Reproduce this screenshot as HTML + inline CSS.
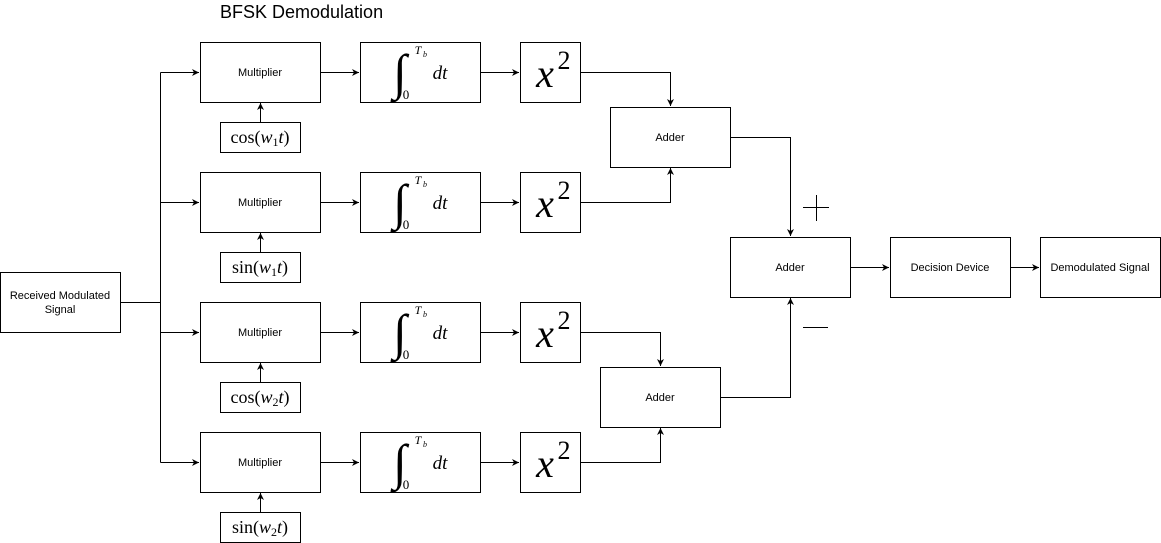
<!DOCTYPE html>
<html><head><meta charset="utf-8"><style>
body{margin:0;background:#fff;width:1161px;height:543px;overflow:hidden}
svg{display:block}
.b{fill:#fff;stroke:#000;stroke-width:1}
.l{fill:none;stroke:#000;stroke-width:1}
.t{font-family:"Liberation Sans",sans-serif;font-size:11px;text-anchor:middle}
.m{font-family:"Liberation Serif",serif;font-style:italic;text-anchor:middle}
.r{font-family:"Liberation Serif",serif;text-anchor:middle}
</style></head><body>
<svg width="1161" height="543" viewBox="0 0 1161 543">
<defs><marker id="a" markerWidth="8" markerHeight="8" refX="7" refY="4" orient="auto" markerUnits="userSpaceOnUse"><path d="M0,0.5 L7,4 L0,7.5 L2,4z" fill="#000"/></marker></defs>
<text x="220" y="18" font-family="Liberation Sans,sans-serif" font-size="18">BFSK Demodulation</text>
<g id="g"></g>
</svg>
<script>
const svg=document.getElementById('g');const NS='http://www.w3.org/2000/svg';
function el(t,a,txt){const e=document.createElementNS(NS,t);for(const k in a)e.setAttribute(k,a[k]);if(txt!==undefined)e.textContent=txt;svg.appendChild(e);return e;}
function line(pts,arrow,name){const e=el('polyline',{points:pts,class:'l','marker-end':arrow?'url(#a)':''});

}
function box(x,y,w,h,name){const e=el('rect',{x:x+.5,y:y+.5,width:w,height:h,class:'b'});

}
const rows=[72,202,332,462];
const osc=[['cos','1'],['sin','1'],['cos','2'],['sin','2']];
box(0,272,120,60,'received-signal-box');
el('text',{x:60,y:299,class:'t'},'Received Modulated');el('text',{x:60,y:313,class:'t'},'Signal');
line('120.5,302.5 160.5,302.5',false,'input-wire');
line('160.5,72.5 160.5,462.5',false,'branch-bus');
rows.forEach((y,i)=>{
 line(`160.5,${y+.5} 199,${y+.5}`,true,'branch-arrow');
 box(200,y-30,120,60,'multiplier-box');el('text',{x:260,y:y+4,class:'t'},'Multiplier');
 line(`320.5,${y+.5} 359,${y+.5}`,true,'mult-to-int-arrow');
 box(360,y-30,120,60,'integrator-box');
 el('text',{x:400,y:y+17,class:'r','font-size':50,transform:`translate(0,0)`},'∫');
 el('text',{x:418,y:y-18,class:'m','font-size':12},'T');el('text',{x:425,y:y-15,class:'m','font-size':8},'b');
 el('text',{x:406,y:y+27,class:'r','font-size':13},'0');
 el('text',{x:440,y:y+7,class:'m','font-size':19},'dt');
 line(`480.5,${y+.5} 519,${y+.5}`,true,'int-to-square-arrow');
 box(520,y-30,60,60,'square-box');
 el('text',{x:545,y:y+15,class:'m','font-size':40},'x');el('text',{x:564,y:y-3,class:'r','font-size':26},'2');
 box(220,y+50,80,30,'oscillator-box');
 const t=el('text',{x:260,y:y+71,class:'r','font-size':18},osc[i][0]+'(');
 const s1=document.createElementNS(NS,'tspan');s1.setAttribute('font-style','italic');s1.textContent='w';t.appendChild(s1);
 const s2=document.createElementNS(NS,'tspan');s2.setAttribute('font-size','12');s2.setAttribute('dy','3');s2.textContent=osc[i][1];t.appendChild(s2);
 const s3=document.createElementNS(NS,'tspan');s3.setAttribute('font-style','italic');s3.setAttribute('dy','-3');s3.textContent='t';t.appendChild(s3);
 const s4=document.createElementNS(NS,'tspan');s4.textContent=')';t.appendChild(s4);
 line(`260.5,${y+50} 260.5,${y+31}`,true,'oscillator-arrow');
});
box(610,107,120,60,'adder-1');el('text',{x:670,y:141,class:'t'},'Adder');
box(600,367,120,60,'adder-2');el('text',{x:660,y:401,class:'t'},'Adder');
box(730,237,120,60,'adder-3');el('text',{x:790,y:271,class:'t'},'Adder');
box(890,237,120,60,'decision-device');el('text',{x:950,y:271,class:'t'},'Decision Device');
box(1040,237,120,60,'demodulated-signal');el('text',{x:1100,y:271,class:'t'},'Demodulated Signal');
line('580.5,72.5 670.5,72.5 670.5,106',true,'sq1-to-adder1');
line('580.5,202.5 670.5,202.5 670.5,168',true,'sq2-to-adder1');
line('580.5,332.5 660.5,332.5 660.5,366',true,'sq3-to-adder2');
line('580.5,462.5 660.5,462.5 660.5,428',true,'sq4-to-adder2');
line('730.5,137.5 790.5,137.5 790.5,236',true,'adder1-to-adder3');
line('720.5,397.5 790.5,397.5 790.5,298',true,'adder2-to-adder3');
line('850.5,267.5 889,267.5',true,'adder3-to-decision');
line('1010.5,267.5 1039,267.5',true,'decision-to-output');
line('803,207.5 829,207.5',false,'plus-sign-h');line('816.5,195 816.5,221',false,'plus-sign-v');
line('803,327.5 828,327.5',false,'minus-sign');
</script>
</body></html>
